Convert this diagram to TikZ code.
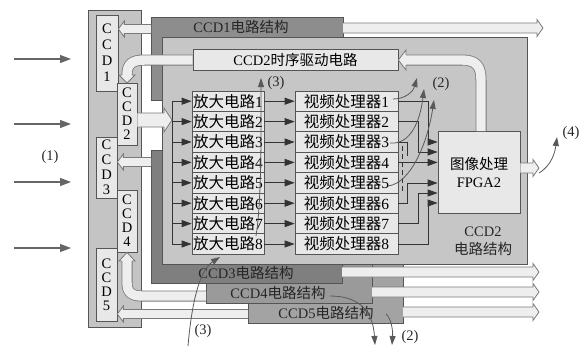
\documentclass[tikz,border=0pt]{standalone}
\usepackage{fontspec}
\setmainfont{Liberation Serif}
\newfontfamily\cjk{Noto Sans CJK SC}
\usetikzlibrary{arrows.meta,calc}
\definecolor{edge}{HTML}{555555}
\definecolor{panel}{HTML}{C4C4C4}
\definecolor{boxf}{HTML}{E8E8E8}
\definecolor{cA}{HTML}{8D8D8D}
\definecolor{cB}{HTML}{C6C6C6}
\definecolor{cC}{HTML}{7F7F7F}
\definecolor{cD}{HTML}{9A9A9A}
\definecolor{cE}{HTML}{A3A3A3}
\definecolor{bline}{HTML}{7A7A7A}
\definecolor{bfill}{HTML}{EEEEEE}
\definecolor{connc}{HTML}{333333}
% block arrow pointing right: shaft half width, head half width, head length, from, to
\newcommand{\barrowR}[5]{%
 \filldraw[barrow] let \p1=#4, \p2=#5 in
 (\x1,{\y1+#1pt}) -- ({\x2-#3pt},{\y1+#1pt}) -- ({\x2-#3pt},{\y1+#2pt}) -- (\x2,\y1)
 -- ({\x2-#3pt},{\y1-#2pt}) -- ({\x2-#3pt},{\y1-#1pt}) -- (\x1,{\y1-#1pt});}
\newcommand{\barrowL}[5]{%
 \filldraw[barrow] let \p1=#4, \p2=#5 in
 (\x1,{\y1+#1pt}) -- ({\x2+#3pt},{\y1+#1pt}) -- ({\x2+#3pt},{\y1+#2pt}) -- (\x2,\y1)
 -- ({\x2+#3pt},{\y1-#2pt}) -- ({\x2+#3pt},{\y1-#1pt}) -- (\x1,{\y1-#1pt});}
\begin{document}
\begin{tikzpicture}[x=1pt,y=-1pt,
 sens/.style={draw=edge,fill=boxf,line width=0.7pt,inner sep=0pt,align=center,font=\fontsize{14.5}{14}\selectfont},
 row/.style={draw=edge,fill=boxf,line width=0.7pt,inner sep=0pt,minimum height=20.4pt,font=\fontsize{15.5}{16}\selectfont},
 lab/.style={inner sep=0pt,font=\fontsize{14.5}{16}\selectfont,text=black!85},
 struct/.style={draw=edge,line width=0.7pt},
 conn/.style={draw=connc,line width=0.8pt,-{Triangle[length=10pt,width=7pt]}},
 plain/.style={draw=connc,line width=0.8pt},
 inarr/.style={draw=black!60,line width=1.1pt,-{Triangle[length=11pt,width=8pt]}},
 note/.style={draw=black!65,line width=0.8pt,-{Triangle[length=9pt,width=6pt]}},
 barrow/.style={draw=bline,fill=bfill,line width=0.8pt,line join=miter},
 bo/.style={draw=bline,line width=11pt},
 bi/.style={draw=bfill,line width=9.4pt},
 ]
\useasboundingbox (0,0) rectangle (587,346);
\fill[white] (0,0) rectangle (587,346);

% left sensor panel
\draw[struct,fill=panel] (88,10) rectangle (141,327);
\node[sens,minimum width=22pt,minimum height=76pt,font=\fontsize{14.5}{16}\selectfont] (s1) at (107,53) {C\\C\\D\\1};
\node[sens,minimum width=20pt,minimum height=62pt] (s2) at (127,114) {C\\C\\D\\2};
\node[sens,minimum width=21pt,minimum height=61pt,font=\fontsize{14.5}{15}\selectfont] (s3) at (106.5,167.5) {C\\C\\D\\3};
\node[sens,minimum width=20pt,minimum height=62pt] (s4) at (127,221) {C\\C\\D\\4};
\node[sens,minimum width=21pt,minimum height=73pt] (s5) at (106.5,284.5) {C\\C\\D\\5};

% circuit structures
\draw[struct,fill=cE] (248,264) rectangle (403,323);
\draw[struct,fill=cD] (206,264) rectangle (372,303);
\draw[struct,fill=cC] (151,150) rectangle (342,283);
\draw[struct,fill=cA] (151,17) rectangle (343,100);
\draw[struct,fill=cB] (162,37) rectangle (527,264);

\node[lab] (l1) at (241,27) {CCD1{\cjk 电路结构}};
\node[lab] (l3) at (246,273) {CCD3{\cjk 电路结构}};
\node[lab] (l4) at (278,293) {CCD4{\cjk 电路结构}};
\node[lab] (l5) at (326,313) {CCD5{\cjk 电路结构}};
\node[lab,align=center,font=\fontsize{14.5}{18}\selectfont] (l2) at (483,241) {CCD2\\{\cjk 电路结构}};

% timing driver
\node[row,minimum width=205pt,minimum height=21pt,font=\fontsize{14.5}{16}\selectfont] (ts) at (295.5,59.5) {CCD2{\cjk 时序驱动电路}};

% amplifiers and video processors
\foreach \i in {1,...,8}{
 \pgfmathsetmacro\cy{101.2+(\i-1)*20.4}
 \node[row,minimum width=72pt] (a\i) at (228,\cy) {{\cjk 放大电路}\i};
 \node[row,minimum width=103pt] (v\i) at (346.5,\cy) {{\cjk 视频处理器}\i};
}

% FPGA
\node[row,minimum width=82pt,minimum height=82pt,align=center,font=\fontsize{14.5}{18}\selectfont] (fp) at (479,172) {{\cjk 图像处理}\\FPGA2};

% connectors
\draw[plain] (172,101.2) -- (172,244.0);
\foreach \i in {1,...,8}{
 \draw[conn] (172,0 |- a\i.west) -- (a\i.west);
 \draw[conn] (a\i.east) -- (v\i.west);
}
\draw[conn] (v1.east) -| (428,142) -- (fp.west |- 428,142);
\draw[conn] (v2.east) -| (418,152) -- (fp.west |- 418,152);
\draw[conn] (v4.east) -- (fp.west |- v4.east);
\draw[conn] (v6.east) -| (407,183) -- (fp.west |- 407,183);
\draw[conn] (v7.east) -| (418,193) -- (fp.west |- 418,193);
\draw[conn] (v8.east) -| (428,203) -- (fp.west |- 428,203);
\draw[plain] (v3.east) -| (407,156);
\draw[plain,dash pattern=on 5pt off 3pt] (402,146) -- (402,193);

% straight block arrows
\barrowL{4.5}{8}{6}{(151,29)}{(s1.east)}
\barrowL{4.5}{8}{6}{(151,162)}{(s3.east)}
\barrowL{4.5}{8}{6}{(248,314)}{(s5.east)}
\barrowR{5}{8.5}{6}{(343,28)}{(543,28)}
\barrowR{5}{8.5}{6}{(fp.east |- 0,168)}{(539,168)}
\barrowR{5}{8.5}{6}{(342,272)}{(539,272)}
\barrowR{5}{8.5}{6}{(372,292)}{(539,292)}
\barrowR{5}{8.5}{6}{(403,312)}{(539,312)}
\barrowR{7}{12}{8}{(s2.east |- 0,120)}{(172,120)}

% curved block arrows
\draw[bo] (ts.west |- 0,60) -- (145,60) .. controls (132,60) and (127,64) .. (127,75);
\draw[bi] (ts.west |- 0,60) -- (145,60) .. controls (132,60) and (127,64) .. (127,75);
\filldraw[barrow] (121.9,75) -- (119,75) -- (127,83) -- (135,75) -- (132.1,75);

\draw[bo] (206,296) -- (142,296) .. controls (131,296) and (127,292) .. (127,282) -- (127,261);
\draw[bi] (206,296) -- (142,296) .. controls (131,296) and (127,292) .. (127,282) -- (127,261);
\filldraw[barrow] (121.9,261) -- (119,261) -- (127,252.5) -- (135,261) -- (132.1,261);

\draw[bo] (481,131) -- (481,80) .. controls (481,66) and (476,60) .. (462,60) -- (406,60);
\draw[bi] (481,131) -- (481,80) .. controls (481,66) and (476,60) .. (462,60) -- (406,60);
\filldraw[barrow] (406,54.9) -- (406,50) -- (ts.east |- 0,60) -- (406,70) -- (406,65.1);

% input arrows
\foreach \y in {59,124,182,248} \draw[inarr] (14,\y) -- (71,\y);
\node[lab] (n1) at (50,157) {(1)};

% annotation curves
\draw[note] (393,99) .. controls (405,99) and (413,92) .. (417,78);
\draw[note] (390,143) .. controls (410,145) and (420,122) .. (424,89);
\draw[note] (388,186) .. controls (412,183) and (428,140) .. (434,100);
\node[lab] (n2a) at (441,84) {(2)};
\draw[note] (256,236) .. controls (262,200) and (261,120) .. (261,78);
\node[lab] (n3a) at (276,83) {(3)};
\draw[note] (188,346) .. controls (192,300) and (200,270) .. (220,257);
\node[lab] (n3b) at (203,331) {(3)};
\draw[note] (330,296) .. controls (360,296) and (373,312) .. (375,345);
\draw[note] (386,314) .. controls (391,318) and (393,330) .. (392,345);
\node[lab] (n2b) at (410,337) {(2)};
\draw[note] (539,173) .. controls (552,165) and (555,152) .. (557,137);
\node[lab] (n4) at (571,133) {(4)};
\end{tikzpicture}
\end{document}
